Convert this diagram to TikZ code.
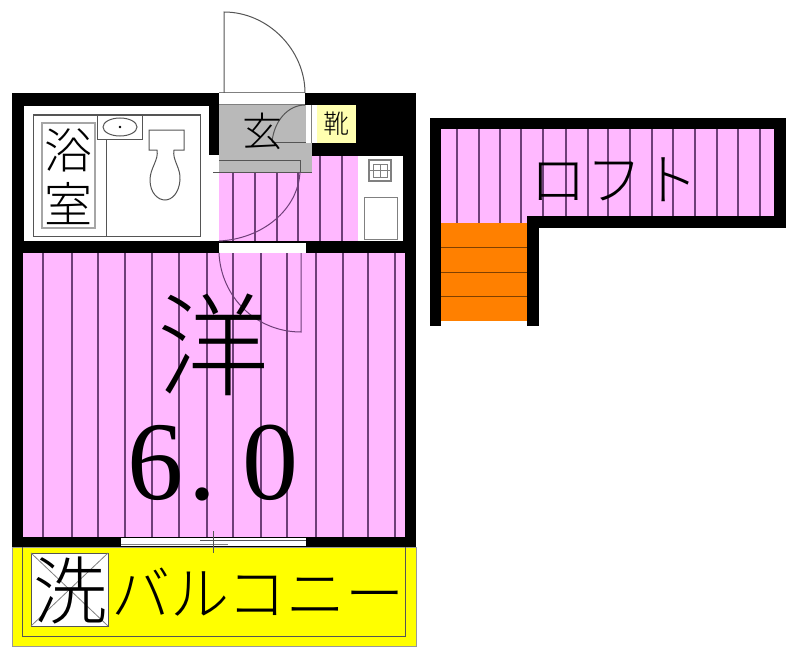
\documentclass[tikz,border=0pt]{standalone}
\usepackage{fontspec}
\setmainfont{Liberation Serif}
\newfontfamily\jp{Noto Sans CJK JP Light}
\definecolor{pinkfloor}{HTML}{FFB8FF}
\definecolor{stripe}{HTML}{6E3F78}
\definecolor{hall}{HTML}{B9B9B9}
\definecolor{stair}{HTML}{FF8000}
\definecolor{shoe}{HTML}{FFFFB0}
\definecolor{thin}{HTML}{555555}
\definecolor{balc}{HTML}{FFFF00}
\tikzset{
  wall/.style={fill=black,draw=none},
  floorpink/.style={fill=pinkfloor,draw=none},
  plain/.style={fill=white,draw=none},
  stripeline/.style={draw=stripe,line width=1.4pt},
  fixture/.style={draw=thin,line width=1pt},
  doorline/.style={draw=thin,line width=1pt},
  label/.style={inner sep=0pt,outer sep=0pt,text=black},
}
\begin{document}
\begin{tikzpicture}[x=1pt,y=-1pt]
\useasboundingbox (0,0) rectangle (794,650);
\fill[white] (0,0) rectangle (794,650);
% --- outer shell
\path[wall] (12,93) rectangle (416,547);
% balcony
\path[fill=balc,draw=thin!60,line width=0.8pt] (12,547) rectangle (416,646);
\draw[fixture] (22,547) -- (22,636) -- (405,636) -- (405,547);
% main room
\path[floorpink] (23,253) rectangle (405,537);
\foreach \x in {43,72,98,125,152,179,207,233,261,287,316,343,368,395}
  \draw[stripeline] (\x,253) -- (\x,537);
% bathroom
\path[plain] (24,106) rectangle (209,241);
\draw[fixture] (33,115) rectangle (200,236);
\draw[fixture] (106,139) -- (106,236);
\draw[fixture] (97,115) rectangle (142,139);
\draw[fixture] (120,127) ellipse (17 and 9);
\fill[thin] (120,127) circle (1.3);
\draw[fixture] (149,130) -- (184,130) -- (184,150) -- (174,150)
  .. controls (172,160) and (181,168) .. (180,180)
  .. controls (179,193) and (172,200) .. (165,200)
  .. controls (158,200) and (150,193) .. (150,180)
  .. controls (150,168) and (159,160) .. (157,150) -- (149,150) -- cycle;
\draw[draw=gray!70,line width=1.5pt] (42,123) rectangle (95,228);
% corridor
\path[plain] (208,155) rectangle (219,241);
\path[floorpink] (219,172) rectangle (358,241);
\path[floorpink] (312,156) rectangle (358,172);
\foreach \x in {233,255,277,298}
  \draw[stripeline] (\x,172) -- (\x,241);
\foreach \x in {320,342}
  \draw[stripeline] (\x,156) -- (\x,241);
% kitchen
\path[plain] (358,156) rectangle (403,241);
\draw[draw=gray,line width=1.4pt] (369,160) rectangle (391,181);
\draw[draw=gray,line width=0.8pt] (373,164) rectangle (387,177);
\draw[draw=gray,line width=0.8pt] (369,170.5) -- (391,170.5) (380,164) -- (380,177);
\draw[draw=gray,line width=1pt] (364,197) rectangle (397,239);
% entry hall
\path[fill=hall] (219,105) rectangle (312,172);
\path[wall] (312,105) rectangle (358,155);
\path[plain] (306,105) rectangle (317,143);
\draw[draw=gray,line width=0.7pt] (311,105) -- (311,143);
\path[fill=shoe] (317,105) rectangle (356,143);
\path[plain] (219,93) rectangle (305,105);
\draw[doorline,draw=gray] (219,93) -- (305,93) (219,105) -- (305,105);
\draw[doorline] (219,160) -- (300,160) -- (300,172);
\draw[doorline] (213,172) -- (312,172);
\draw[doorline] (272,142) -- (306,142);
\draw[doorline] (305,105) .. controls (288,105) and (274,121) .. (272,142);
% doors
\path[plain] (219,243) rectangle (306,253);
\draw[doorline] (224,93) -- (224,12) .. controls (268,12) and (305,50) .. (305,93);
\draw[doorline,draw=stripe] (300,172) .. controls (298,210) and (262,239) .. (219,241);
\draw[doorline,draw=stripe] (219,253) .. controls (221,297) and (256,332) .. (301,332) -- (301,253);
% balcony window
\path[plain] (121,538) rectangle (306,546);
\draw[doorline] (200,540) -- (306,540);
\draw[doorline,draw=gray] (121,544.5) -- (228,544.5);
\draw[doorline] (213,531) -- (213,553);
% washer
\path[fill=white,draw=thin,line width=1pt] (31,553) rectangle (108,626);
\draw[draw=gray,line width=0.8pt] (31,553) -- (108,626) (108,553) -- (31,626);
% loft
\path[wall] (430,118) rectangle (786,228);
\path[plain] (430,228) rectangle (527,232);
\path[wall] (430,118) rectangle (441,326);
\path[wall] (527,216) rectangle (539,326);
\path[floorpink] (441,129) rectangle (774,216);
\path[floorpink] (441,216) rectangle (527,223);
\foreach \x in {457,479,500,521}
  \draw[stripeline] (\x,129) -- (\x,223);
\foreach \x in {543,566,588,608,630,652,673,695,717,738,760}
  \draw[stripeline] (\x,129) -- (\x,216);
\path[fill=stair] (441,223) rectangle (527,321);
\foreach \y in {247,272,296}
  \draw[draw=stair!50!black,line width=1pt] (441,\y) -- (527,\y);
% labels
\node[label] (bath1) at (68,150) {\jp\fontsize{48}{48}\selectfont 浴};
\node[label] (bath2) at (68,204) {\jp\fontsize{48}{48}\selectfont 室};
\node[label] (entry) at (262,131) {\jp\fontsize{40}{40}\selectfont 玄};
\node[label] (shoes) at (336,124) {\jp\fontsize{26}{26}\selectfont 靴};
\node[label] (western) at (213,345) {\jp\fontsize{112}{112}\selectfont 洋};
\node[label] (size) at (213,463) {\fontsize{112}{112}\selectfont 6\hspace{5pt}.\hspace{26pt}0};
\node[label] (wash) at (70,590) {\jp\fontsize{74}{74}\selectfont 洗};
\node[label] (balcony) at (258,592) {\jp\fontsize{59}{59}\selectfont バルコニー};
\node[label] (loft) at (614,180) {\jp\fontsize{56}{56}\selectfont ロフト};
\end{tikzpicture}
\end{document}
